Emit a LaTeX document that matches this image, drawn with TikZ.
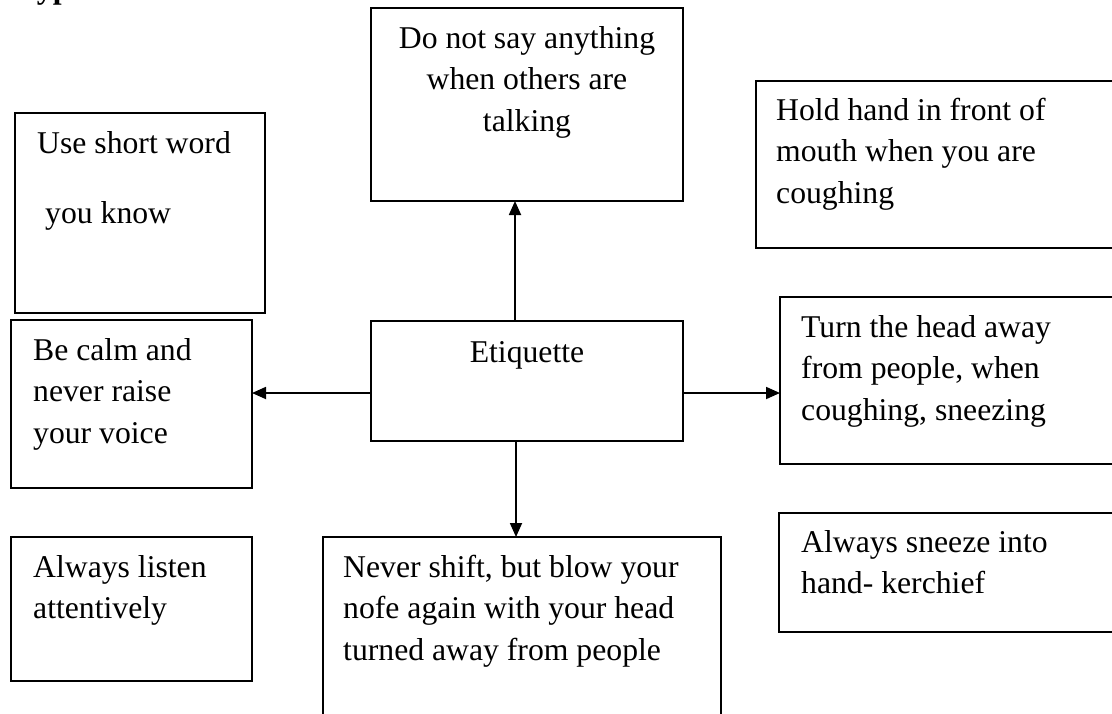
\documentclass[tikz,border=0pt]{standalone}
\usepackage{fontspec}
\setmainfont{Liberation Serif}
\usetikzlibrary{arrows.meta}
\newcommand\sst{\rule{0pt}{29pt}}
\begin{document}
\begin{tikzpicture}[x=1pt,y=-1pt,
  box/.style={draw, line width=1.6pt, anchor=north west, inner sep=0pt, outer sep=0pt},
  txt/.style={anchor=north west, inner sep=0pt, align=left, font=\fontsize{31.7}{41.5}\selectfont},
  ctxt/.style={anchor=north, inner sep=0pt, align=center, font=\fontsize{31.7}{41.5}\selectfont},
  arr/.style={line width=1.8pt, -{Triangle[length=14pt,width=12pt]}}]
\useasboundingbox (0,0) rectangle (1112,713);
\clip (0,0) rectangle (1112,713);
% title (cut off at top)
\node[anchor=base west, inner sep=0pt, font=\bfseries\fontsize{31.7}{38}\selectfont] (title) at (18,-2) {Types};
% boxes
\node[box, minimum width=312pt, minimum height=193pt] (dontsay) at (371,8) {};
\node[box, minimum width=312pt, minimum height=120pt] (etq) at (371,321) {};
\node[box, minimum width=250pt, minimum height=200pt] (short) at (15,113) {};
\node[box, minimum width=241pt, minimum height=168pt] (calm) at (11,320) {};
\node[box, minimum width=241pt, minimum height=144pt] (listen) at (11,537) {};
\node[box, minimum width=398pt, minimum height=200pt] (never) at (323,537) {};
\node[box, minimum width=380pt, minimum height=167pt] (hold) at (756,81) {};
\node[box, minimum width=360pt, minimum height=167pt] (turn) at (780,297) {};
\node[box, minimum width=360pt, minimum height=119pt] (sneeze) at (779,513) {};
% texts
\node[ctxt] (tdontsay) at (527,19) {\sst Do not say anything\\when others are\\talking};
\node[anchor=base, inner sep=0pt, font=\fontsize{31.7}{41.5}\selectfont] (tetq) at (527,362) {Etiquette};
\node[txt] (tshort) at (37,124) {\sst Use short word\\[28.5pt]\hspace*{8pt}you know};
\node[txt] (tcalm) at (33,331) {\sst Be calm and\\never raise\\your voice};
\node[txt] (tlisten) at (33,548) {\sst Always listen\\attentively};
\node[txt] (tnever) at (343,548) {\sst Never shift, but blow your\\nofe again with your head\\turned away from people};
\node[txt] (thold) at (776,91) {\sst Hold hand in front of\\mouth when you are\\coughing};
\node[txt] (tturn) at (801,308) {\sst Turn the head away\\from people, when\\coughing, sneezing};
\node[txt] (tsneeze) at (801,523) {\sst Always sneeze into\\hand- kerchief};
% connectors
\coordinate (up) at ([xshift=-12pt]etq.north);
\coordinate (dn) at ([xshift=-11pt]etq.south);
\coordinate (lf) at ([yshift=-12pt]etq.west);
\coordinate (rt) at ([yshift=-12pt]etq.east);
\draw[arr] (up) -- (up |- dontsay.south);
\draw[arr] (dn) -- (dn |- never.north);
\draw[arr] (lf) -- (lf -| calm.east);
\draw[arr] (rt) -- (rt -| turn.west);
\end{tikzpicture}
\end{document}
